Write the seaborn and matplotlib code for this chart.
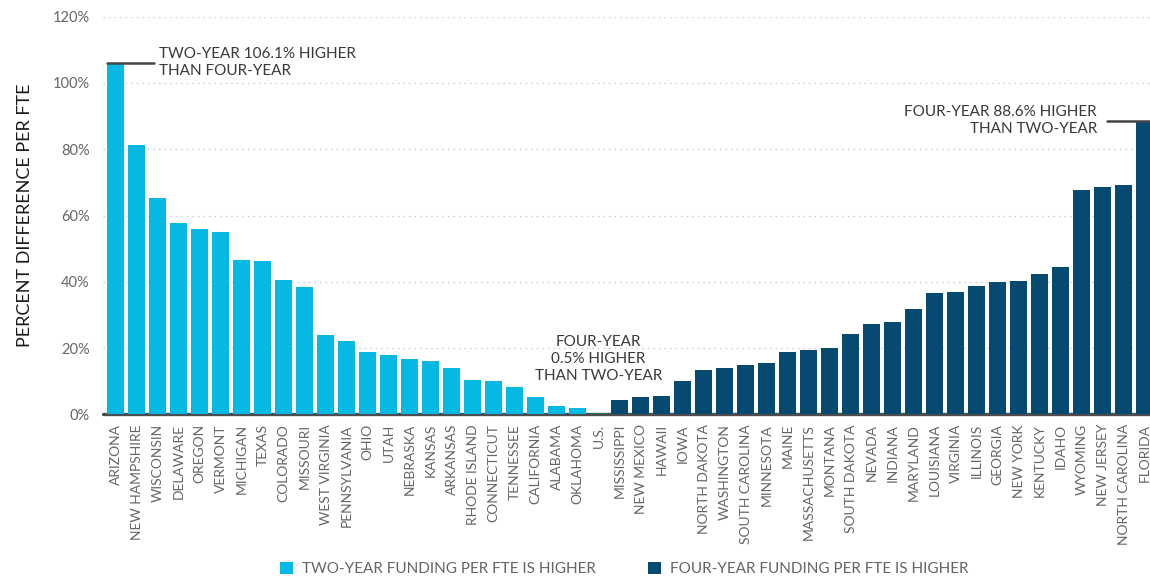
import matplotlib
matplotlib.use("Agg")
import matplotlib.pyplot as plt
import seaborn as sns
import pandas as pd
from matplotlib.patches import Patch

# Percent difference in state funding per FTE between two-year and four-year institutions
states = [
    "ARIZONA", "NEW HAMPSHIRE", "WISCONSIN", "DELAWARE", "OREGON", "VERMONT",
    "MICHIGAN", "TEXAS", "COLORADO", "MISSOURI", "WEST VIRGINIA", "PENNSYLVANIA",
    "OHIO", "UTAH", "NEBRASKA", "KANSAS", "ARKANSAS", "RHODE ISLAND",
    "CONNECTICUT", "TENNESSEE", "CALIFORNIA", "ALABAMA", "OKLAHOMA", "U.S.",
    "MISSISSIPPI", "NEW MEXICO", "HAWAII", "IOWA", "NORTH DAKOTA", "WASHINGTON",
    "SOUTH CAROLINA", "MINNESOTA", "MAINE", "MASSACHUSETTS", "MONTANA",
    "SOUTH DAKOTA", "NEVADA", "INDIANA", "MARYLAND", "LOUISIANA", "VIRGINIA",
    "ILLINOIS", "GEORGIA", "NEW YORK", "KENTUCKY", "IDAHO", "WYOMING",
    "NEW JERSEY", "NORTH CAROLINA", "FLORIDA",
]
values = [
    106.1, 81.4, 65.4, 57.6, 55.8, 54.9,
    46.7, 46.4, 40.4, 38.3, 23.8, 22.0,
    18.7, 17.9, 16.6, 16.0, 13.9, 10.5,
    9.9, 8.1, 5.3, 2.6, 1.9, 0.5,
    4.4, 5.3, 5.6, 9.9, 13.3, 13.9,
    14.8, 15.6, 18.8, 19.4, 20.1,
    24.3, 27.3, 27.9, 31.8, 36.7, 37.0,
    38.8, 40.0, 40.3, 42.4, 44.5, 67.8,
    68.7, 69.3, 88.6,
]
legend_labels = ["TWO-YEAR FUNDING PER FTE IS HIGHER", "FOUR-YEAR FUNDING PER FTE IS HIGHER"]

us_idx = states.index("U.S.")
groups = ["two" if i < us_idx else ("us" if i == us_idx else "four") for i in range(len(states))]
df = pd.DataFrame({"state": states, "value": values, "group": groups})

colors = {"two": "#05b9e2", "us": "#137a63", "four": "#064a72"}
text_col = "#3a3a3a"
tick_col = "#666666"

sns.set_theme(style="white")
plt.rcParams["font.family"] = ["Lato", "DejaVu Sans"]

W, H = 1150, 578
fig = plt.figure(figsize=(W / 100, H / 100), dpi=100)
ax = fig.add_axes([103 / W, 1 - 414.3 / H, 1 - 103 / W, (414.3 - 16.7) / H])

sns.barplot(data=df, x="state", y="value", hue="group", palette=colors, saturation=1,
            dodge=False, width=0.81, linewidth=0, legend=False, ax=ax, zorder=3)

ax.set_xlim(-0.6, 49.26)
ax.set_ylim(0, 120)
ax.set_yticks(range(0, 121, 20))
ax.set_yticklabels([f"{t}%" for t in range(0, 121, 20)])
ax.yaxis.grid(True, linestyle=(0, (1, 3)), color="#c8c8c8", linewidth=1, zorder=0)
ax.set_axisbelow(True)
for s in ax.spines.values():
    s.set_visible(False)
# baseline sits under the bars so the thin U.S. bar stays visible
ax.axhline(0, color="#4d4d4d", linewidth=2.4, zorder=2, clip_on=False)

ax.tick_params(axis="y", length=0, pad=9.5, labelsize=10.5, labelcolor=tick_col)
ax.tick_params(axis="x", length=0, pad=7, labelsize=10, labelcolor=tick_col)
for lab in ax.get_xticklabels():
    lab.set_rotation(90)
    lab.set_ha("center")
    lab.set_va("top")

ax.set_xlabel("")
ax.set_ylabel("PERCENT DIFFERENCE PER FTE", fontsize=13, color="#1a1a1a", labelpad=14)

# Callouts for the extreme values and the national figure
az = values[states.index("ARIZONA")]
ax.plot([-0.405, 1.83], [az, az], color="#444444", lw=1.8, zorder=5, clip_on=False)
ax.text(2.07, az, "TWO-YEAR 106.1% HIGHER\nTHAN FOUR-YEAR", ha="left", va="center",
        fontsize=11, color=text_col, linespacing=1.25)

fl_i = states.index("FLORIDA")
fl = values[fl_i]
ax.plot([fl_i - 1.79, fl_i + 0.5], [fl, fl], color="#444444", lw=1.8, zorder=5, clip_on=False)
ax.text(fl_i - 2.26, fl, "FOUR-YEAR 88.6% HIGHER\nTHAN TWO-YEAR", ha="right", va="center",
        multialignment="right", fontsize=11, color=text_col, linespacing=1.25)

ax.text(us_idx, 16.7, "FOUR-YEAR\n0.5% HIGHER\nTHAN TWO-YEAR", ha="center", va="center",
        multialignment="center", fontsize=11, color=text_col, linespacing=1.25)

handles = [Patch(facecolor=colors["two"], edgecolor="none"),
           Patch(facecolor=colors["four"], edgecolor="none")]
leg = fig.legend(handles, legend_labels, loc="center", bbox_to_anchor=(624 / W, 1 - 569 / H),
                 ncol=2, frameon=False, fontsize=11, handlelength=0.85, handleheight=0.85,
                 handletextpad=0.6, columnspacing=3.4)
for t in leg.get_texts():
    t.set_color(tick_col)

fig.savefig("out.png", dpi=100)
